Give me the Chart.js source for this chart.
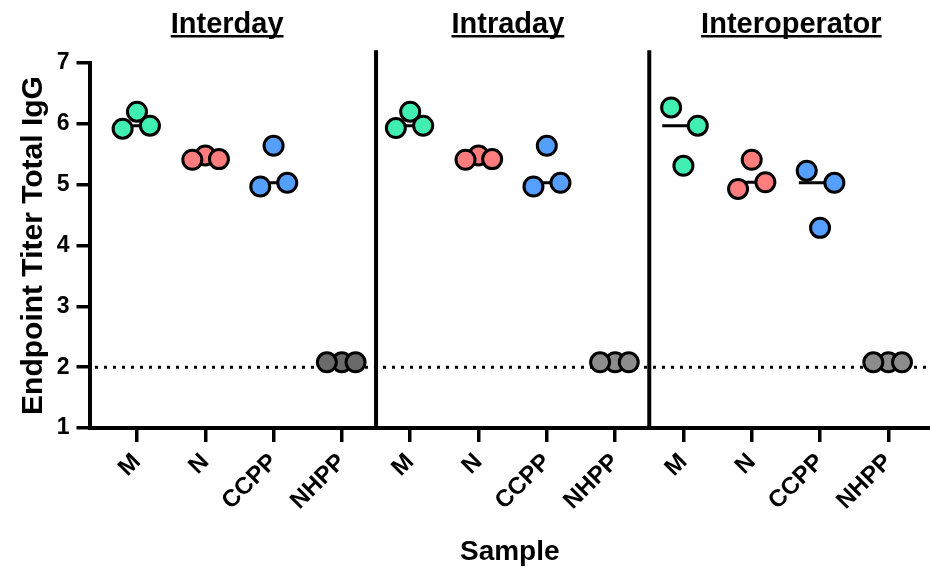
<!DOCTYPE html>
<html><head><meta charset="utf-8">
<script src="https://cdn.jsdelivr.net/npm/chart.js@4/dist/chart.umd.min.js"></script>
<style>html,body{margin:0;padding:0;background:#fff;}#wrap{width:930px;height:572px;}</style>
</head><body><div id="wrap"><canvas id="c" width="930" height="572"></canvas></div>
<script>
// ---- data ----
const panels = ['Interday', 'Intraday', 'Interoperator'];
const categories = ['M', 'N', 'CCPP', 'NHPP'];
const yTicks = [1, 2, 3, 4, 5, 6, 7];
const interday = [[6.20, 5.92, 5.97], [5.48, 5.41, 5.42], [5.64, 4.97, 5.03], [2.08, 2.08, 2.08]];
const intraday = [[6.20, 5.93, 5.97], [5.48, 5.41, 5.42], [5.64, 4.97, 5.03], [2.08, 2.08, 2.08]];
const interoperator = [[5.31, 6.27, 5.97], [5.41, 4.93, 5.04], [4.29, 5.23, 5.03], [2.08, 2.08, 2.08]];
const threshold = 2;

// ---- layout / style ----
const panelValues = [interday, intraday, interoperator];
const jitter = [
  [[0, -0.21, 0.19], [0, -0.19, 0.2], [0, -0.195, 0.2], [0, -0.22, 0.2]],
  [[0, -0.21, 0.19], [0, -0.19, 0.2], [0, -0.195, 0.2], [0, -0.22, 0.2]],
  [[0, -0.18, 0.21], [0, -0.2, 0.2], [0, -0.195, 0.21], [0, -0.22, 0.2]]
];
const catColors = ['#42EFB2', '#FF7D7D', '#549FFF', '#8C8C8C'];
const grayPanel1 = '#6A6A6A';
const xMin = -0.695, xMax = 11.61;
const titleCenters = [1.32, 5.43, 9.58];
const FONT = "'Liberation Sans', Arial, Helvetica, sans-serif";

const datasets = [];
panelValues.forEach((vals, p) => {
  vals.forEach((arr, c) => {
    const center = p * categories.length + c;
    let color = catColors[c];
    if (c === 3 && p === 0) color = grayPanel1;
    datasets.push({
      type: 'scatter',
      data: arr.map((v, k) => ({ x: center + jitter[p][c][k], y: v })),
      backgroundColor: color, borderColor: '#000', borderWidth: 3,
      pointRadius: 9.5, pointHoverRadius: 9.5, order: 0, clip: false
    });
    const s = [...arr].sort((a, b) => a - b);
    const med = s[Math.floor(s.length / 2)];
    datasets.push({
      type: 'scatter', showLine: true,
      data: [{ x: center - 0.31, y: med }, { x: center + 0.31, y: med }],
      borderColor: '#000', borderWidth: 3, pointRadius: 0, order: 1, clip: false
    });
  });
});
datasets.push({
  type: 'scatter', showLine: true,
  data: [{ x: xMin + 0.08, y: threshold }, { x: xMax, y: threshold }],
  borderColor: '#000', borderWidth: 3, borderDash: [3, 6], pointRadius: 0, order: 2, clip: false
});
[3.5, 7.5].forEach(xv => {
  datasets.push({
    type: 'scatter', showLine: true,
    data: [{ x: xv, y: yTicks[0] }, { x: xv, y: yTicks[yTicks.length - 1] + 0.21 }],
    borderColor: '#000', borderWidth: 4, pointRadius: 0, order: 2, clip: false
  });
});

const panelTitles = {
  id: 'panelTitles',
  afterDraw(chart) {
    const ctx = chart.ctx, xs = chart.scales.x;
    ctx.save();
    ctx.font = "bold 29px " + FONT;
    ctx.fillStyle = '#000';
    ctx.textAlign = 'center';
    ctx.textBaseline = 'alphabetic';
    panels.forEach((t, i) => {
      const cx = xs.getPixelForValue(titleCenters[i]);
      const y = 33;
      ctx.fillText(t, cx, y);
      const w = ctx.measureText(t).width;
      ctx.fillRect(cx - w / 2, y + 2, w, 2.5);
    });
    ctx.restore();
  }
};

new Chart(document.getElementById('c'), {
  type: 'scatter',
  data: { datasets },
  options: {
    responsive: false, animation: false, devicePixelRatio: 1,
    layout: { autoPadding: false, padding: { top: 63, left: 0, right: 0, bottom: 0 } },
    plugins: { legend: { display: false }, tooltip: { enabled: false } },
    scales: {
      x: {
        type: 'linear', min: xMin, max: xMax,
        afterFit: s => { s.height = 144; s.paddingLeft = 0; s.paddingRight = 0; },
        afterBuildTicks: s => { s.ticks = Array.from({ length: panels.length * categories.length }, (_, i) => ({ value: i })); },
        ticks: {
          autoSkip: false, minRotation: 45, maxRotation: 45, padding: 6, color: '#000',
          font: { family: FONT, size: 24, weight: 'bold' },
          callback: (v) => categories[((v % categories.length) + categories.length) % categories.length]
        },
        grid: { display: true, drawOnChartArea: false, drawTicks: true, tickLength: 14, lineWidth: 3.5, tickWidth: 3.5, tickColor: '#000', color: '#000' },
        border: { display: true, color: '#000', width: 4 },
        title: { display: true, text: 'Sample', color: '#000', font: { family: FONT, size: 28, weight: 'bold' }, padding: { top: 0, bottom: 3 } }
      },
      y: {
        type: 'linear', min: yTicks[0], max: yTicks[yTicks.length - 1],
        afterFit: s => { s.width = 89.5; },
        afterBuildTicks: s => { s.ticks = yTicks.map(v => ({ value: v })); },
        ticks: { color: '#000', padding: 7, font: { family: FONT, size: 23, weight: 'bold' } },
        grid: { display: true, drawOnChartArea: false, drawTicks: true, tickLength: 13, lineWidth: 3.5, tickWidth: 3.5, tickColor: '#000', color: '#000' },
        border: { display: true, color: '#000', width: 4 },
        title: { display: true, text: 'Endpoint Titer Total IgG', color: '#000', font: { family: FONT, size: 30, weight: 'bold' }, padding: { top: 16, bottom: 0 } }
      }
    }
  },
  plugins: [panelTitles]
});
</script></body></html>
